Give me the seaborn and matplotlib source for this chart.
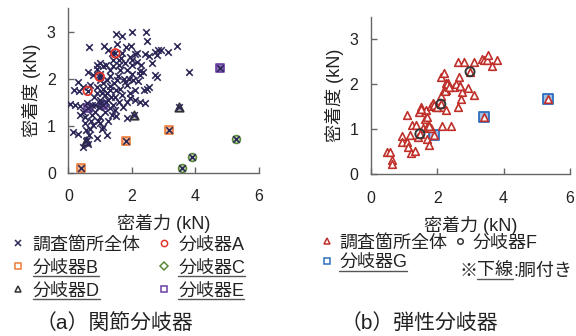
import matplotlib
matplotlib.use("Agg")
import matplotlib.pyplot as plt
import seaborn as sns
from matplotlib.lines import Line2D

# ---- data ----
# (a) joint turnouts: all survey points
all_a_x = [1.50, 1.70, 2.00, 2.43, 2.48, 0.65, 1.12, 1.52, 1.80, 1.96, 1.26, 1.36, 1.68, 2.10,
           2.17, 2.42, 2.55, 2.73, 2.83, 2.93, 3.15, 3.42, 3.81, 2.80, 1.94, 1.58, 1.78, 1.99,
           2.15, 2.62, 1.00, 0.89, 1.10, 1.31, 1.42, 1.62, 1.84, 2.26, 2.36, 2.73, 2.78, 0.31,
           0.63, 0.79, 1.00, 1.21, 1.52, 1.78, 2.05, 2.26, 0.47, 0.68, 0.89, 1.10, 1.31, 1.62,
           1.84, 2.47, 2.55, 2.38, 0.18, 0.35, 0.89, 1.21, 1.47, 1.94, 2.10, 2.26, 2.41, 0.05,
           0.21, 0.37, 0.58, 0.84, 0.99, 1.31, 1.47, 1.73, 0.37, 0.52, 0.73, 0.99, 1.36, 1.84,
           0.16, 0.31, 0.52, 0.68, 0.79, 0.94, 1.05, 1.21, 0.89, 0.58, 0.47, 0.63, 1.10,
           0.90, 1.00, 1.20, 1.40, 1.60, 1.10, 1.30, 1.50, 1.70, 0.80, 1.00, 1.20, 1.40, 1.60,
           1.15, 0.85, 0.45, 0.70, 1.00, 1.25, 1.50, 1.90, 2.00, 1.75, 2.20, 1.55, 1.30, 0.75,
           0.55, 0.65, 1.95, 2.10, 1.85, 2.30, 2.00, 1.65, 1.05, 1.35, 1.45, 0.95, 1.15, 1.25,
           0.61, 0.99, 1.48, 0.41, 1.83, 3.18, 3.59, 3.89, 5.29, 0.57, 2.07, 3.47, 0.62, 1.09, 4.76]
all_a_y = [2.96, 2.91, 3.00, 2.99, 2.81, 2.67, 2.70, 2.73, 2.68, 2.70, 2.61, 2.54, 2.54, 2.52,
           2.55, 2.52, 2.48, 2.57, 2.60, 2.62, 2.56, 2.70, 2.15, 2.50, 2.47, 2.40, 2.33, 2.29,
           2.36, 2.33, 2.33, 2.29, 2.26, 2.18, 2.26, 2.18, 2.18, 2.17, 2.15, 2.08, 2.04, 1.94,
           2.15, 2.08, 1.97, 1.97, 1.97, 1.94, 1.97, 2.08, 1.83, 1.87, 1.83, 1.79, 1.76, 1.79,
           1.87, 1.79, 1.82, 1.76, 1.76, 1.74, 1.69, 1.69, 1.62, 1.58, 1.55, 1.51, 1.48, 1.46,
           1.45, 1.42, 1.48, 1.44, 1.48, 1.37, 1.33, 1.40, 1.23, 1.19, 1.23, 1.19, 1.23, 1.16,
           0.87, 0.82, 1.05, 0.94, 1.01, 1.09, 0.94, 0.80, 0.73, 0.70, 0.55, 0.62, 0.98,
           2.20, 2.10, 2.30, 2.40, 2.30, 1.90, 1.85, 1.75, 1.65, 1.60, 1.55, 1.50, 1.45, 1.50,
           1.30, 1.30, 1.30, 1.10, 1.05, 1.10, 1.20, 2.00, 2.10, 2.00, 1.95, 2.05, 2.05, 1.45,
           0.90, 0.80, 1.70, 1.75, 1.50, 2.30, 2.40, 2.45, 1.70, 1.60, 1.90, 1.40, 1.65, 1.55,
           1.74, 2.04, 2.54, 0.11, 0.67, 0.91, 0.11, 0.34, 0.72, 0.68, 1.23, 1.40, 1.37, 1.43, 2.23]

a_x = [0.61, 0.99, 1.48]
a_y = [1.74, 2.04, 2.54]
b_x = [0.41, 1.83, 3.18]
b_y = [0.11, 0.67, 0.91]
c_x = [3.59, 3.89, 5.29]
c_y = [0.11, 0.34, 0.72]
d_x = [0.57, 2.07, 3.47]
d_y = [0.68, 1.23, 1.40]
e_x = [0.62, 1.09, 4.76]
e_y = [1.37, 1.43, 2.23]

# (b) elastic turnouts
all_b_x = [0.48, 0.58, 0.63, 0.65, 1.10, 0.93, 0.95, 1.08, 1.18, 1.13, 1.20, 1.33, 1.25, 1.36,
           1.43, 1.46, 1.51, 1.66, 1.63, 1.70, 1.58, 1.68, 1.76, 1.83, 1.68, 1.76, 1.83, 1.88,
           1.98, 2.08, 2.16, 2.26, 2.13, 2.21, 2.13, 2.20, 2.26, 2.28, 2.33, 2.43, 2.16, 2.51,
           2.63, 2.80, 2.66, 2.58, 2.70, 2.75, 2.63, 2.71, 2.93, 3.10, 3.10, 3.35, 3.40, 3.50,
           3.54, 3.64, 3.80, 2.30, 2.25, 2.35, 1.90, 2.00, 1.75, 2.70, 1.50,
           1.48, 2.11, 2.99, 1.91, 3.41, 5.35]
all_b_y = [0.49, 0.49, 0.32, 0.22, 1.33, 0.86, 0.73, 0.73, 0.87, 0.61, 0.48, 0.53, 1.10, 1.10,
           0.84, 1.39, 1.49, 1.43, 1.24, 1.28, 1.02, 1.06, 1.07, 1.02, 0.78, 0.65, 1.52, 1.59,
           1.50, 1.52, 1.50, 1.43, 2.16, 2.26, 1.74, 1.87, 2.04, 1.87, 2.02, 1.07, 1.07, 1.93,
           2.50, 2.49, 2.16, 2.00, 1.96, 1.84, 1.50, 1.67, 1.91, 2.50, 1.76, 2.56, 2.53, 2.54,
           2.65, 2.41, 2.54, 2.00, 1.85, 1.95, 1.55, 1.50, 1.08, 1.97, 1.45,
           0.90, 1.56, 2.28, 0.87, 1.27, 1.67]

f_x = [1.48, 2.11, 2.99]
f_y = [0.90, 1.56, 2.28]
g_x = [1.91, 3.41, 5.35]
g_y = [0.87, 1.27, 1.67]

labels_a = ['調査箇所全体', '分岐器A', '分岐器B', '分岐器C', '分岐器D', '分岐器E']
labels_b = ['調査箇所全体', '分岐器F', '分岐器G']
underlined = ['分岐器B', '分岐器C', '分岐器D', '分岐器E', '分岐器G']

sns.set_theme(style="white")
plt.rcParams['font.family'] = ['Liberation Sans', 'Noto Sans CJK JP', 'DejaVu Sans']

NAVY = '#2b2858'
RED = '#e5352b'
ORANGE = '#ee7d3b'
GREEN = '#5b8a3a'
DARK = '#333333'
PURPLE = '#6b3fa3'
TRI_RED = '#c0302a'
BLUE = '#2e6fbf'

fig = plt.figure(figsize=(5.76, 3.36), dpi=100)
ax1 = fig.add_axes([0.1186, 0.486, 0.331, 0.4897])
ax2 = fig.add_axes([0.6436, 0.481, 0.346, 0.469])

# (a)
sns.scatterplot(x=b_x, y=b_y, ax=ax1, marker='s', s=32, color='#f7b58a', edgecolor=ORANGE, linewidth=1.2, zorder=2)
sns.scatterplot(x=c_x, y=c_y, ax=ax1, marker='o', s=32, color='#c5dbb0', edgecolor=GREEN, linewidth=1.2, zorder=2)
sns.scatterplot(x=d_x, y=d_y, ax=ax1, marker='^', s=38, color='#b0b0b0', edgecolor=DARK, linewidth=1.2, zorder=2)
sns.scatterplot(x=e_x, y=e_y, ax=ax1, marker='s', s=36, color='#8b6bb5', edgecolor=PURPLE, linewidth=1.2, zorder=2)
sns.scatterplot(x=all_a_x, y=all_a_y, ax=ax1, marker='x', s=22, color=NAVY, linewidth=1.15, zorder=3)
sns.scatterplot(x=a_x, y=a_y, ax=ax1, marker='o', s=38, facecolor='none', edgecolor=RED, linewidth=1.3, zorder=4)

# (b)
sns.scatterplot(x=g_x, y=g_y, ax=ax2, marker='s', s=48, color='#9fc0e6', edgecolor=BLUE, linewidth=1.3, zorder=2)
sns.scatterplot(x=all_b_x, y=all_b_y, ax=ax2, marker='^', s=30, color='white', edgecolor=TRI_RED, linewidth=1.2, zorder=3)
sns.scatterplot(x=f_x, y=f_y, ax=ax2, marker='o', s=42, facecolor='none', edgecolor=DARK, linewidth=1.4, zorder=4)

for ax in (ax1, ax2):
    ax.set_xlim(0, 6)
    ax.set_ylim(0, 3.5)
    ax.set_xticks([0, 2, 4, 6])
    ax.set_yticks([0, 1, 2, 3])
    ax.tick_params(direction='in', length=4, width=1, color='#666666', labelcolor='#222222',
                   labelsize=11.5, left=True, bottom=True)
    ax.tick_params(axis='x', pad=12)
    ax.tick_params(axis='y', pad=9)
    for s in ('top', 'right'):
        ax.spines[s].set_visible(False)
    for s in ('left', 'bottom'):
        ax.spines[s].set_color('#666666')
        ax.spines[s].set_linewidth(1)
    ax.set_xlabel('密着力 (kN)', fontsize=13, color='#222222', labelpad=7)
    ax.set_ylabel('密着度 (kN)', fontsize=13, color='#222222', labelpad=4)


def h(marker, color, ms=4.5):
    return Line2D([], [], linestyle='none', marker=marker, markersize=ms,
                  markerfacecolor='white', markeredgecolor=color, markeredgewidth=1.1)


# legend (a): column-first order
handles_a = [h('x', NAVY), h('s', ORANGE), h('^', DARK), h('o', RED), h('D', GREEN), h('s', PURPLE)]
order_a = [labels_a[0], labels_a[2], labels_a[4], labels_a[1], labels_a[3], labels_a[5]]
leg1 = ax1.legend(handles_a, order_a, loc='upper left', bbox_to_anchor=(0.022, 0.296),
                  bbox_transform=fig.transFigure, ncol=2, frameon=False, fontsize=13,
                  handlelength=0.6, handletextpad=0.5, columnspacing=1.0, labelspacing=0.33,
                  borderpad=0, borderaxespad=0)

handles_b = [h('^', TRI_RED), h('s', BLUE), h('o', DARK, 4)]
order_b = [labels_b[0], labels_b[2], labels_b[1]]
leg2 = ax2.legend(handles_b, order_b, loc='upper left', bbox_to_anchor=(0.558, 0.302),
                  bbox_transform=fig.transFigure, ncol=2, frameon=False, fontsize=13,
                  handlelength=0.6, handletextpad=0.4, columnspacing=0.4, labelspacing=0.15,
                  borderpad=0, borderaxespad=0)
for leg in (leg1, leg2):
    for t in leg.get_texts():
        t.set_color('#222222')

fig.text(0.198, 0.04, '（a）関節分岐器', fontsize=15, ha='center', va='center', color='#222222')
fig.text(0.728, 0.04, '（b）弾性分岐器', fontsize=15, ha='center', va='center', color='#222222')

# note with underlined part
fig.canvas.draw()
renderer = fig.canvas.get_renderer()
inv = fig.transFigure.inverted()
x0 = 459 / 576
y_note = 1 - 271 / 336
pieces = []
for part in ['※', '下線', ':胴付き']:
    t = fig.text(x0, y_note, part, fontsize=13, ha='left', va='center', color='#222222')
    bb = t.get_window_extent(renderer).transformed(inv)
    pieces.append((part, bb))
    x0 = bb.x1


def underline(bb):
    fig.add_artist(Line2D([bb.x0, bb.x1], [bb.y0 + 0.002, bb.y0 + 0.002],
                          transform=fig.transFigure, color='#555555', linewidth=1))


for part, bb in pieces:
    if part == '下線':
        underline(bb)

for leg in (leg1, leg2):
    for t in leg.get_texts():
        if t.get_text() in underlined:
            underline(t.get_window_extent(renderer).transformed(inv))

fig.savefig('out.png', dpi=100)
